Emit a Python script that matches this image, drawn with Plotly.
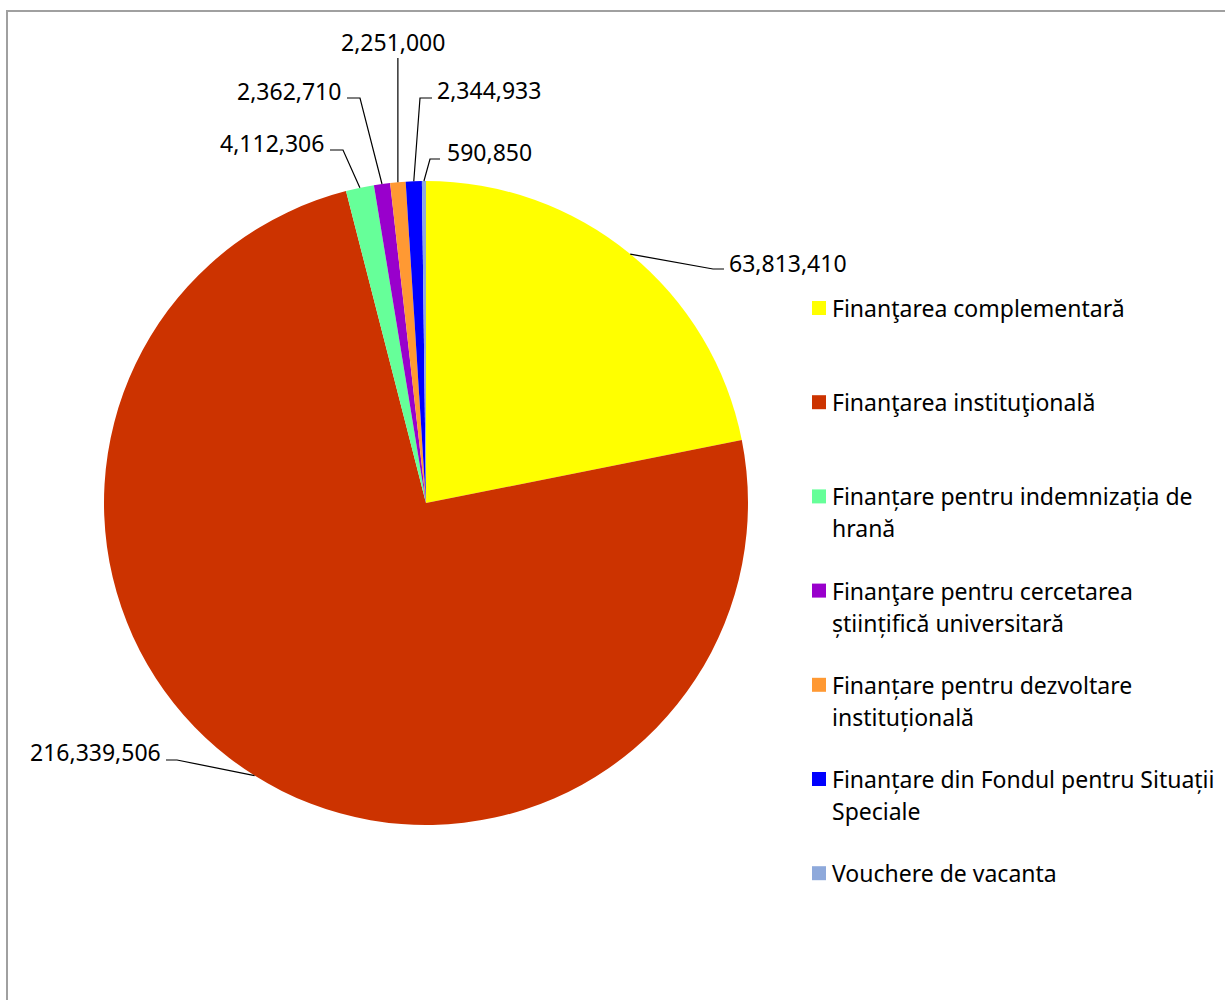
import math
import plotly.graph_objects as go

# data
labels = [
    "Finanţarea complementară",
    "Finanţarea instituţională",
    "Finanțare pentru indemnizația de hrană",
    "Finanţare pentru cercetarea științifică universitară",
    "Finanțare pentru dezvoltare instituțională",
    "Finanțare din Fondul pentru Situații Speciale",
    "Vouchere de vacanta",
]
values = [63813410, 216339506, 4112306, 2362710, 2251000, 2344933, 590850]
colors = ["#FFFF00", "#CC3300", "#66FF99", "#9900CC", "#FF9933", "#0000FF", "#8EA9DB"]

# legend line wraps (layout only)
legend_lines = [
    ["Finanţarea complementară"],
    ["Finanţarea instituţională"],
    ["Finanțare pentru indemnizația de", "hrană"],
    ["Finanţare pentru cercetarea", "științifică universitară"],
    ["Finanțare pentru dezvoltare", "instituțională"],
    ["Finanțare din Fondul pentru Situații", "Speciale"],
    ["Vouchere de vacanta"],
]

W, H = 1225, 1000
CX, CY, R = 426, 503, 322
FONT = "Noto Sans"
FS = 23

# label layout in pixels: elbow point, end of horizontal tick, text anchor
label_layout = [
    dict(elbow=(713, 269), end=(724, 269), text=(727, 263), anchor="left"),
    dict(elbow=(177, 760), end=(166, 760), text=(163, 752), anchor="right"),
    dict(elbow=(343, 150), end=(330, 150), text=(326, 143), anchor="right"),
    dict(elbow=(360, 98), end=(347, 98), text=(343, 91), anchor="right"),
    dict(elbow=None, end=None, text=(393, 42), anchor="center"),
    dict(elbow=(420, 98), end=(432, 98), text=(435, 90), anchor="left"),
    dict(elbow=(430, 159), end=(440, 159), text=(445, 152), anchor="left"),
]


def px(x):
    return x / W


def py(y):
    return 1 - y / H


fig = go.Figure()

fig.add_trace(go.Pie(
    labels=labels,
    values=values,
    sort=False,
    direction="clockwise",
    rotation=0,
    textinfo="none",
    marker=dict(colors=colors, line=dict(width=0)),
    domain=dict(x=[px(CX - R), px(CX + R)], y=[py(CY + R), py(CY - R)]),
    showlegend=False,
    hovertemplate="%{label}<br>%{value:,}<extra></extra>",
))

shapes = []
annotations = []

# leader lines and value labels, anchored at each slice's mid-angle
total = sum(values)
start = 0.0
for v, lay in zip(values, label_layout):
    mid = start + v / total * 360 / 2
    start += v / total * 360
    a = math.radians(mid)
    ex, ey = CX + R * math.sin(a), CY - R * math.cos(a)
    tx, ty = lay["text"]
    if lay["elbow"] is None:
        path = f"M {px(ex)},{py(ey)} L {px(ex)},{py(58)}"
        anchor = "center"
    else:
        bx, by = lay["elbow"]
        hx, hy = lay["end"]
        path = f"M {px(ex)},{py(ey)} L {px(bx)},{py(by)} L {px(hx)},{py(hy)}"
        anchor = lay["anchor"]
    annotations.append(dict(
        x=px(tx), y=py(ty), xref="paper", yref="paper", text=f"{v:,}",
        showarrow=False, xanchor=anchor, yanchor="middle",
        font=dict(family=FONT, size=FS, color="black"),
    ))
    shapes.append(dict(type="path", path=path, xref="paper", yref="paper",
                       line=dict(color="black", width=1.2)))

# manual legend
LX, LY0, LSTEP, LLINE = 812, 308, 94.2, 32
for i, (c, lines) in enumerate(zip(colors, legend_lines)):
    y0 = LY0 + i * LSTEP
    shapes.append(dict(type="rect", xref="paper", yref="paper",
                       x0=px(LX), x1=px(LX + 14), y0=py(y0 - 7), y1=py(y0 + 7),
                       fillcolor=c, line=dict(width=0)))
    for j, line in enumerate(lines):
        annotations.append(dict(
            x=px(LX + 18), y=py(y0 + j * LLINE), xref="paper", yref="paper",
            text=line, showarrow=False, xanchor="left", yanchor="middle",
            font=dict(family=FONT, size=FS, color="black"),
        ))

# chart border
shapes.append(dict(type="rect", xref="paper", yref="paper",
                   x0=px(7), x1=px(W + 40), y0=py(H + 40), y1=py(11),
                   line=dict(color="#A0A0A0", width=2), fillcolor="rgba(0,0,0,0)"))

fig.update_layout(
    width=W, height=H,
    margin=dict(l=0, r=0, t=0, b=0),
    paper_bgcolor="white",
    plot_bgcolor="white",
    shapes=shapes,
    annotations=annotations,
    font=dict(family=FONT),
)

fig.write_html("out.html", config={"displayModeBar": False},
               post_script="document.body.style.margin = '0';")
